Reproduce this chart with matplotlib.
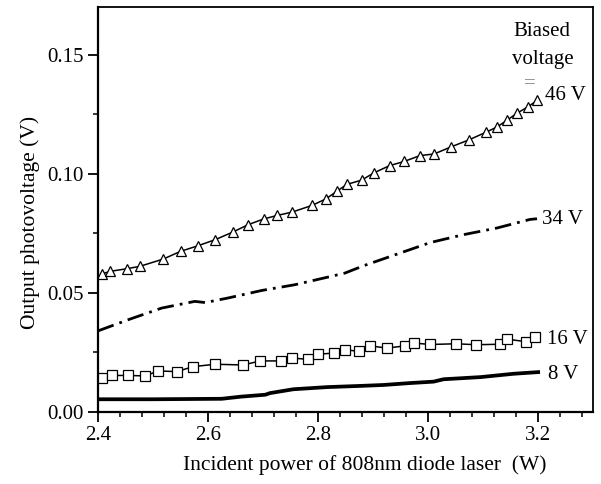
"""Output photovoltage vs incident laser power for several biased voltages"""
import matplotlib
matplotlib.use('Agg')
import matplotlib.pyplot as plt
from matplotlib.ticker import MultipleLocator

plt.rcParams['font.family'] = ['Liberation Serif', 'DejaVu Serif']

# 46 V (open triangles)
x46 = [2.408, 2.422, 2.452, 2.476, 2.519, 2.550, 2.581, 2.613, 2.645, 2.673,
       2.701, 2.726, 2.753, 2.789, 2.814, 2.834, 2.852, 2.879, 2.901, 2.930,
       2.957, 2.985, 3.011, 3.041, 3.075, 3.105, 3.125, 3.143, 3.162, 3.181,
       3.198]
y46 = [0.0580, 0.0590, 0.0601, 0.0611, 0.0642, 0.0674, 0.0697, 0.0723, 0.0755, 0.0786,
       0.0810, 0.0825, 0.0839, 0.0867, 0.0894, 0.0926, 0.0955, 0.0973, 0.1003, 0.1034,
       0.1052, 0.1076, 0.1083, 0.1112, 0.1143, 0.1174, 0.1196, 0.1224, 0.1255, 0.1280,
       0.1308]

# 34 V (dash-dot, no markers)
x34 = [2.400, 2.455, 2.516, 2.576, 2.595, 2.636, 2.698, 2.758, 2.818, 2.849,
       2.882, 2.943, 3.004, 3.064, 3.125, 3.185, 3.198]
y34 = [0.0340, 0.0387, 0.0436, 0.0464, 0.0459, 0.0478, 0.0510, 0.0534, 0.0566, 0.0583,
       0.0613, 0.0662, 0.0711, 0.0744, 0.0772, 0.0808, 0.0811]

# 16 V (open squares)
x16 = [2.408, 2.426, 2.455, 2.485, 2.510, 2.543, 2.573, 2.613, 2.664, 2.695,
       2.732, 2.752, 2.781, 2.799, 2.829, 2.849, 2.875, 2.895, 2.925, 2.958,
       2.975, 3.004, 3.051, 3.087, 3.130, 3.144, 3.178, 3.195]
y16 = [0.0142, 0.0153, 0.0153, 0.0151, 0.0172, 0.0169, 0.0190, 0.0200, 0.0197, 0.0214,
       0.0214, 0.0226, 0.0221, 0.0242, 0.0247, 0.0261, 0.0254, 0.0277, 0.0268, 0.0277,
       0.0289, 0.0283, 0.0286, 0.0282, 0.0284, 0.0305, 0.0295, 0.0316]

# 8 V (thick solid)
x8 = [2.400, 2.500, 2.625, 2.660, 2.704, 2.713, 2.755, 2.816, 2.876, 2.919,
      2.967, 3.010, 3.028, 3.095, 3.155, 3.200]
y8 = [0.0053, 0.0053, 0.0055, 0.0064, 0.0072, 0.0079, 0.0095, 0.0104, 0.0109, 0.0113,
      0.0121, 0.0127, 0.0137, 0.0146, 0.0160, 0.0167]

fig = plt.figure(figsize=(6.01, 4.84), dpi=100)
ax = fig.add_axes([0.163, 0.149, 0.824, 0.8365])

ax.plot(x46, y46, color='black', lw=1.1, marker='^', ms=7, mfc='white',
        mec='black', mew=0.9)
ax.plot(x34, y34, color='black', lw=2.0, dashes=(6, 2.2, 1, 2.2))
ax.plot(x16, y16, color='black', lw=1.1, marker='s', ms=6.5, mfc='white',
        mec='black', mew=0.9)
ax.plot(x8, y8, color='black', lw=2.7)

fs = 15
ax.text(3.155, 0.1598, 'Biased', fontsize=fs, va='center', ha='left')
ax.text(3.152, 0.1480, 'voltage', fontsize=fs, va='center', ha='left')
ax.text(3.185, 0.1380, '=', fontsize=fs, va='center', ha='center', color='gray')
ax.text(3.213, 0.1330, '46 V', fontsize=fs, va='center', ha='left')
ax.text(3.207, 0.0807, '34 V', fontsize=fs, va='center', ha='left')
ax.text(3.216, 0.0302, '16 V', fontsize=fs, va='center', ha='left')
ax.text(3.218, 0.0158, '8 V', fontsize=fs, va='center', ha='left')

ax.set_xlim(2.4, 3.3)
ax.set_ylim(0.0, 0.17)
ax.xaxis.set_major_locator(MultipleLocator(0.2))
ax.xaxis.set_minor_locator(MultipleLocator(0.04))
ax.yaxis.set_major_locator(MultipleLocator(0.05))
ax.yaxis.set_minor_locator(MultipleLocator(0.025))
ax.xaxis.set_major_formatter(plt.FormatStrFormatter('%.1f'))
ax.yaxis.set_major_formatter(plt.FormatStrFormatter('%.2f'))
ax.tick_params(which='major', direction='out', length=7, width=1.3, labelsize=fs)
ax.tick_params(which='minor', direction='out', length=3.5, width=1.1)
for s in ['left', 'bottom']:
    ax.spines[s].set_linewidth(1.6)
for s in ['top', 'right']:
    ax.spines[s].set_linewidth(1.3)

ax.set_xlabel('Incident power of 808nm diode laser  (W)', fontsize=15.5,
              labelpad=7, x=0.539)
ax.set_ylabel('Output photovoltage (V)', fontsize=15.5, labelpad=5, y=0.467)

fig.savefig('out.png', dpi=100)
